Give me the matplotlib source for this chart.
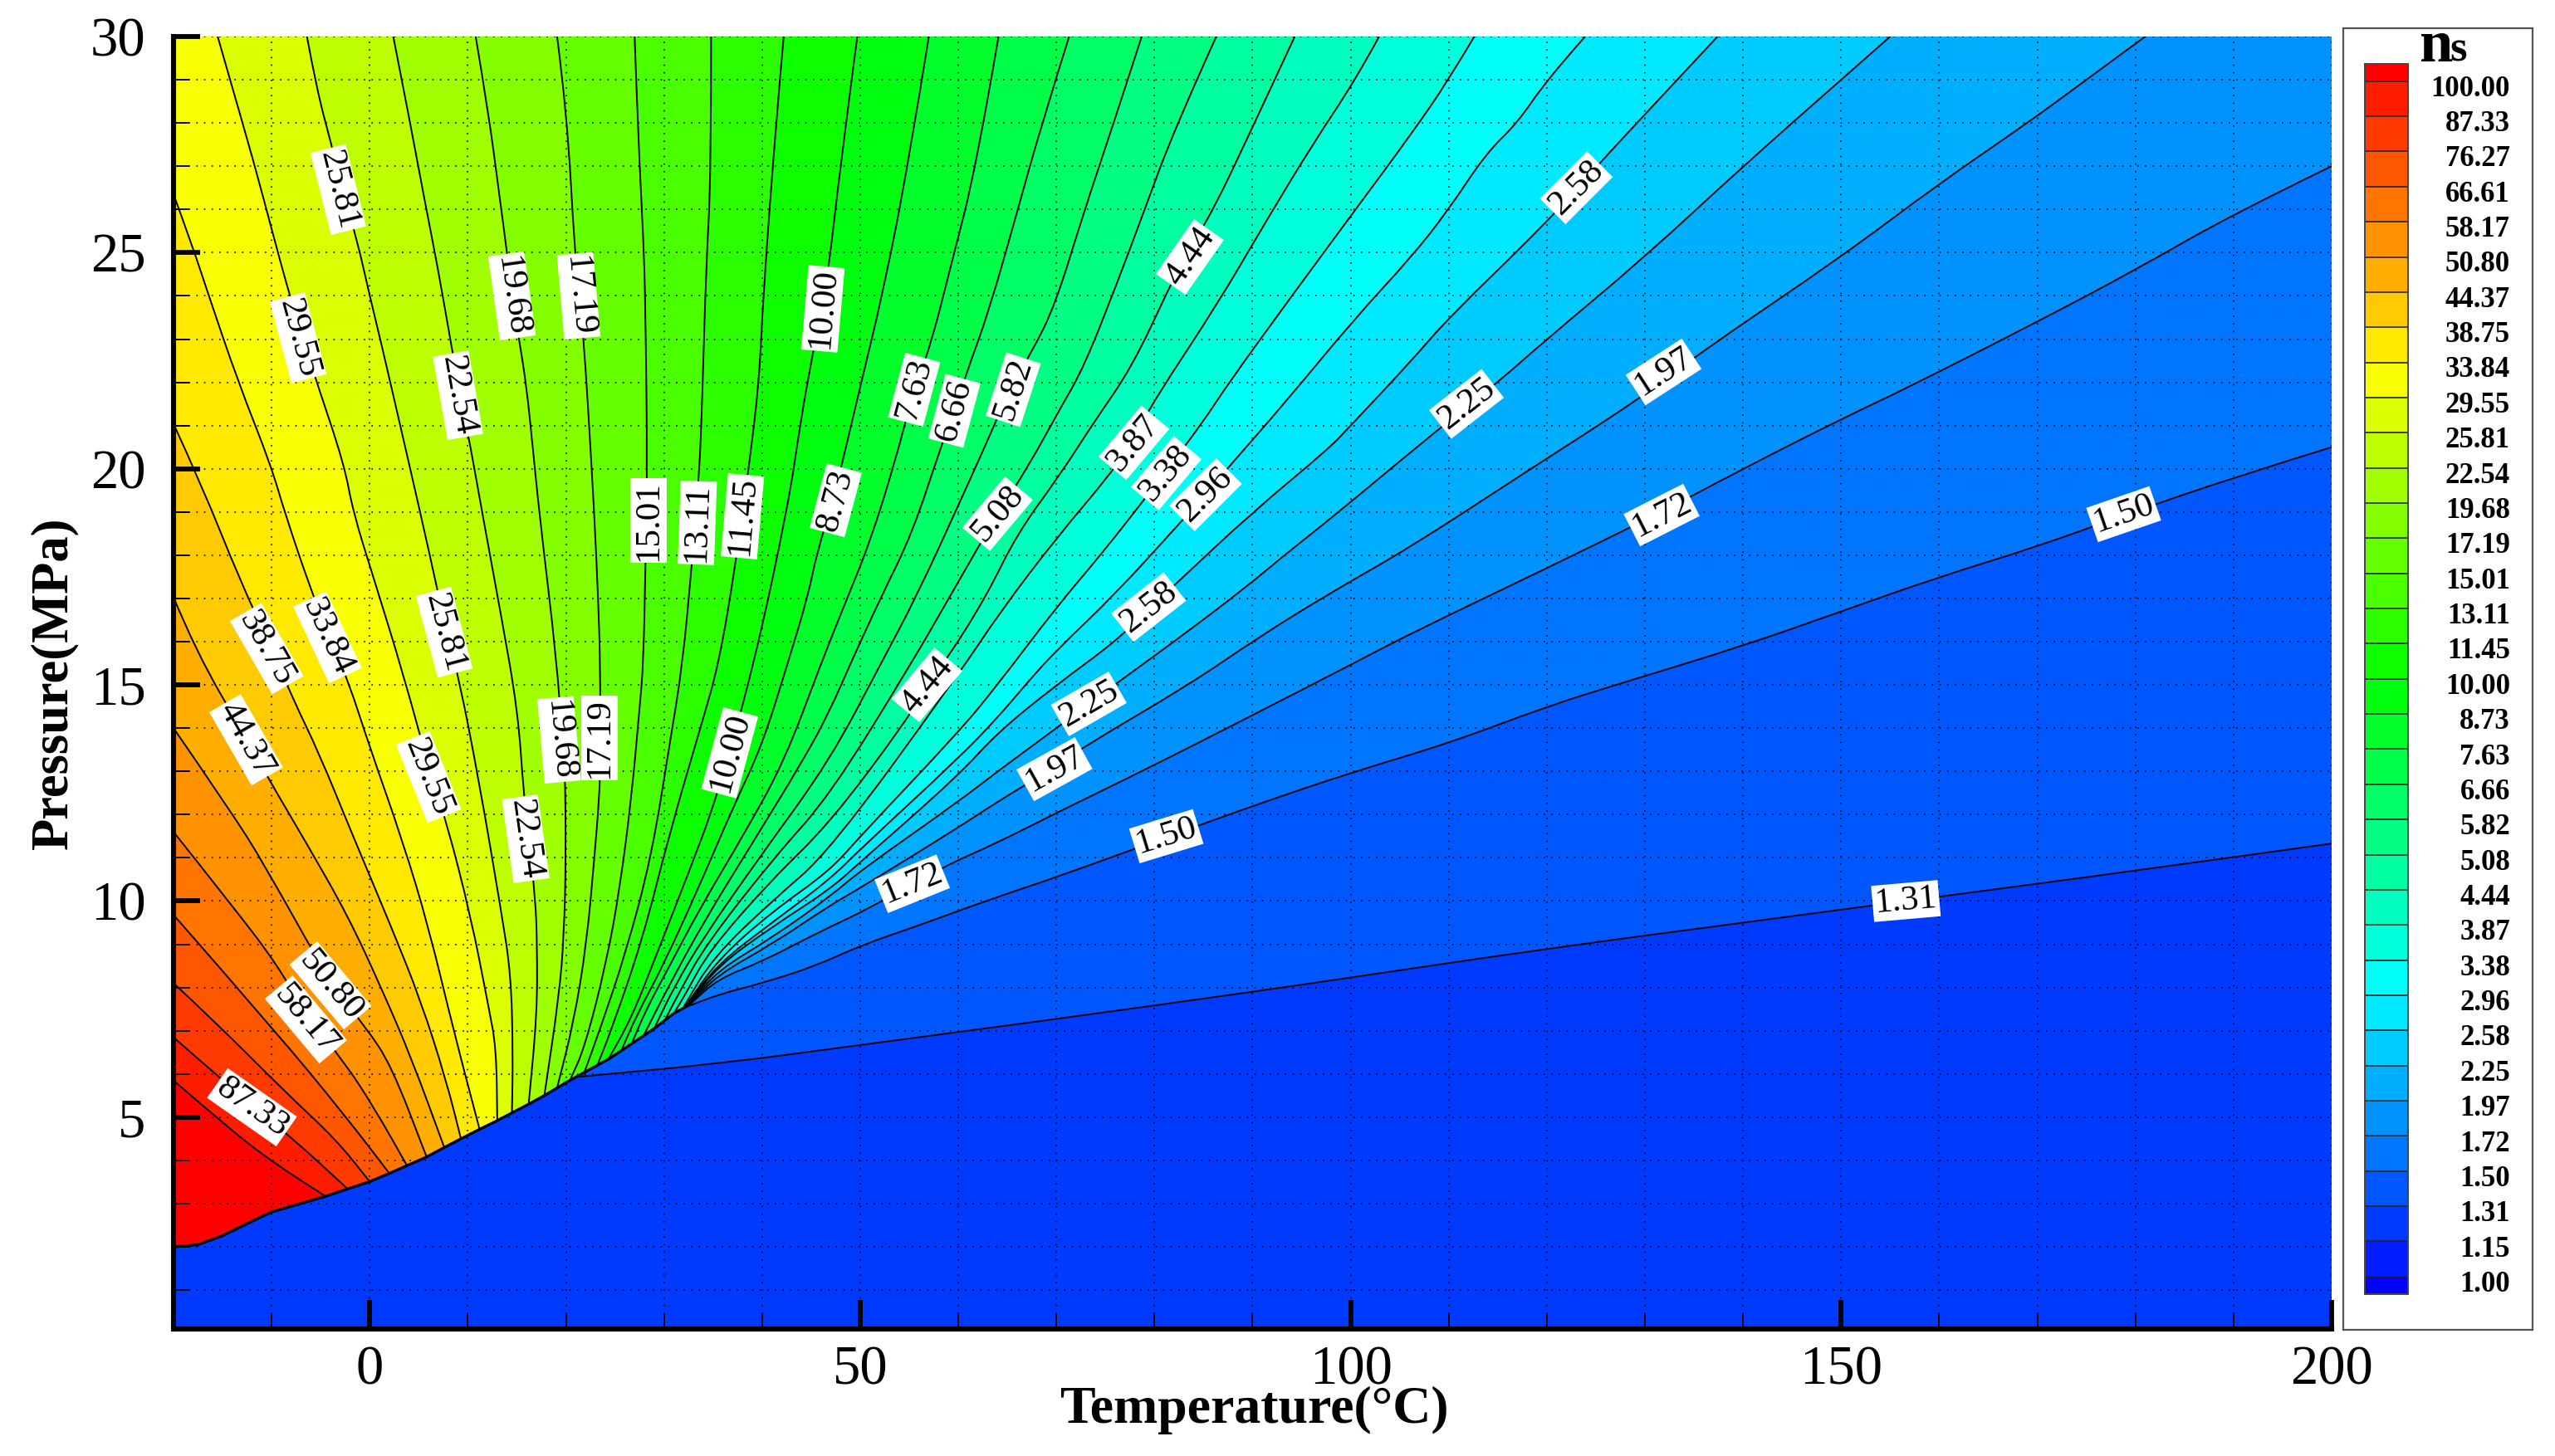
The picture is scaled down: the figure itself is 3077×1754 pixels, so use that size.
"""CO2 ns contour map over temperature and pressure, with the phase boundary."""
from __future__ import annotations

import matplotlib
matplotlib.use("Agg")
import matplotlib.pyplot as plt
from matplotlib.colors import LinearSegmentedColormap
from matplotlib.patches import PathPatch, Rectangle
from matplotlib.path import Path
from matplotlib.ticker import MultipleLocator

W, H = 3077, 1754

LEVEL_LABELS = ["100.00", "87.33", "76.27", "66.61", "58.17", "50.80", "44.37", "38.75", "33.84", "29.55",
                "25.81", "22.54", "19.68", "17.19", "15.01", "13.11", "11.45", "10.00", "8.73", "7.63",
                "6.66", "5.82", "5.08", "4.44", "3.87", "3.38", "2.96", "2.58", "2.25", "1.97",
                "1.72", "1.50", "1.31", "1.15", "1.00"]

# phase boundary, (T, P), cold end first
BOUNDARY = [(-20, 2.0), (-17.5, 2.05), (-15.1, 2.25), (-10.1, 2.8), (-4.5, 3.17), (0, 3.51), (2, 3.7), (3.8, 3.88),
            (5.8, 4.08), (7.6, 4.3), (9.3, 4.5), (11.2, 4.72), (13, 4.92), (14.5, 5.1), (16.2, 5.3),
            (17.8, 5.5), (20, 5.8), (22, 6.05), (24.4, 6.35), (26.7, 6.7), (29, 7.05), (31, 7.4), (32.6, 7.6)]

# contour lines, (T, P), outer end first, boundary end last
NS_1_31 = [(200, 11.33), (180, 10.7), (156.6, 10.0), (140, 9.5), (120, 8.9), (100, 8.23), (90, 7.9), (70, 7.27),
           (50, 6.67), (35.8, 6.24), (21, 5.93)]
NS_1_50 = [(200, 20.5), (190, 19.8), (178.5, 18.9), (170, 18.2), (160, 17.5), (150, 16.7), (140, 15.9), (127, 15.0),
           (120, 14.5), (110, 13.65), (100, 12.97), (90, 12.2), (81.5, 11.5), (70, 10.55), (64, 10.1), (55.9, 9.43),
           (50, 8.97), (45.5, 8.5), (40, 8.1), (35.7, 7.85), (32.6, 7.58)]
NS_1_72 = [(200, 27.0), (190, 25.9), (180, 24.6), (170, 23.4), (157, 21.9), (150, 21.15), (140, 20), (131.7, 19),
           (120, 17.7), (106.2, 16.2), (100.3, 15.5), (90, 14.3), (79.6, 13.1), (70, 12.04), (64, 11.35),
           (58.5, 10.8), (51.3, 9.87), (45.5, 9.25), (40, 8.6), (35.5, 8.2), (32.6, 7.6)]
NS_1_97 = [(181, 30), (175, 29), (169, 28), (160, 26.6), (150, 24.9), (135.7, 22.7), (130, 21.7), (117, 19.8),
           (106.2, 18.2), (97.7, 17.1), (90.6, 16.1), (83.5, 15), (73, 13.6), (69.5, 13.05), (64, 12.3), (60, 11.7),
           (50, 10.3), (46.9, 9.9), (41, 9.0), (35.5, 8.3), (32.55, 7.6)]
NS_2_25 = [(155, 30), (150, 29), (140, 27), (130, 24.9), (120, 23), (115, 22), (111.6, 21.4), (106.2, 20.4),
           (97.7, 18.8), (93.5, 18.05), (89, 17.2), (82, 16.0), (76.8, 15.15), (70, 14), (64, 13), (60, 12.3),
           (50, 10.7), (46.9, 10.1), (41, 9.15), (35.5, 8.4), (32.5, 7.6)]
NS_2_58 = [(137.4, 30), (130, 28.2), (125.9, 27.2), (120, 25.7), (110, 23.5), (106.2, 22.5), (100, 21.0), (97.7, 20.45),
           (90, 19), (82, 17.3), (79.4, 16.75), (76, 16), (70, 15), (64, 13.9), (60, 12.9), (50, 10.9), (46.9, 10.27),
           (41, 9.4), (35.5, 8.5), (32.4, 7.59)]
NS_2_96 = [(123.9, 30), (120, 29), (117, 28), (113.8, 27.3), (110, 26), (106.2, 24.9), (100.5, 23.5), (93.2, 21.5),
           (87.4, 20), (85, 19.35), (82.6, 18.75), (76, 17.1), (70, 15.8), (67.2, 15.1), (64, 14.24), (60, 13.3),
           (50, 11.2), (46.9, 10.5), (41, 9.5), (35.5, 8.55), (32.3, 7.58)]
NS_3_38 = [(112.6, 30), (110, 29), (106.2, 27.75), (100.5, 26), (94, 24), (87.6, 22), (84.7, 21), (81.3, 20), (79, 19.3),
           (74.5, 18), (70, 16.8), (64, 15), (60, 13.9), (50, 11.5), (46.9, 10.7), (41, 9.75), (35.5, 8.65),
           (32.2, 7.57)]
NS_3_87 = [(102.9, 30), (100.5, 29), (96.1, 27.5), (91.3, 25.7), (86.4, 23.8), (80, 21.6), (77.9, 20.7), (75.6, 19.9),
           (70, 18.4), (64.3, 16.7), (60.2, 15.3), (46.9, 11.15), (41, 10.0), (35, 8.7), (32, 7.55)]
NS_4_44 = [(94.3, 30), (90, 27.9), (85.9, 25.94), (83.3, 25), (81.5, 24.19), (77.7, 22.35), (73.8, 21.07), (70.4, 19.87),
           (66, 18.5), (62.9, 17.07), (59, 15.65), (56.8, 15), (54.8, 14.2), (46.9, 11.8), (41, 10.5), (34.6, 8.85),
           (32.2, 7.85), (31, 7.4)]
NS_5_08 = [(86.3, 30), (82.1, 27.9), (78.9, 25.94), (76.2, 24.3), (72.8, 22.35), (70.4, 21.4), (67, 20), (64.1, 19),
           (59.2, 17.07), (55.2, 15.49), (46.9, 12.44), (41.2, 11.0), (34.3, 9), (31.7, 7.95), (30.1, 7.25)]
NS_5_82 = [(78.7, 30), (75.7, 27.9), (72.8, 25.94), (69.9, 23.8), (67.5, 22.7), (65.3, 21.9), (63.8, 21.07), (60.7, 19.5),
           (55.8, 17.07), (52.1, 15.49), (46.9, 13.25), (39.7, 11), (34, 9.15), (31, 8.0), (29, 7.05)]
NS_6_66 = [(71.3, 30), (68.4, 27.9), (66, 25.94), (63.1, 23.63), (60.9, 22.26), (59.7, 21.4), (58.3, 20.56), (55.3, 18.5),
           (52.2, 17.07), (49, 15.49), (46.9, 14.4), (44.3, 13.3), (38.9, 11.3), (34, 9.5), (30.4, 8), (27.9, 6.88)]
NS_7_63 = [(64.1, 30), (61.9, 27.05), (59.2, 24.66), (57.3, 22.95), (55.2, 21.6), (53.6, 20.2), (51, 18.3), (48.3, 16.8),
           (46, 15.49), (42.3, 13.25), (38.3, 11.6), (33.7, 9.85), (30.1, 8.3), (28.2, 7.5), (26.7, 6.7)]
NS_8_73 = [(57, 30), (54.9, 27.05), (52.4, 24.15), (50, 21.9), (47.3, 19.3), (45.6, 18.08), (44.7, 17.07), (42.6, 15.49),
           (40, 13.6), (37.1, 12.2), (33.7, 10.4), (29.9, 8.5), (27.3, 7.4), (25.6, 6.52)]
NS_10_00 = [(49.7, 30), (48, 27.05), (46.8, 24.66), (46.1, 23.7), (45.1, 22.6), (43.9, 21.07), (42.7, 19.2), (39.2, 15.49),
            (35.4, 12.4), (32.5, 10.65), (29.3, 8.8), (26.7, 7.3), (24.3, 6.33)]
NS_11_45 = [(42.2, 30), (41.5, 28.25), (40.1, 24), (39.7, 22), (38.6, 19.95), (37.3, 17.8), (35.6, 15.49), (33.7, 14),
            (30.6, 11.6), (27.8, 9.1), (24.6, 7), (23.2, 6.2)]
NS_13_11 = [(34.8, 30), (34.8, 26.8), (34.3, 24.73), (33.9, 21.64), (33.6, 19.88), (32.8, 17.7), (31.9, 15.49),
            (30.6, 13.66), (28.7, 11), (26.1, 8.8), (23.5, 7.05), (21.9, 6.05)]
NS_15_01 = [(27, 30), (27.4, 27.5), (27.9, 25.3), (28.1, 23.85), (28.3, 19.88), (28.1, 17.7), (27.9, 15.49), (27.5, 14.45),
            (26.7, 12.43), (25.5, 10.3), (24.1, 8.55), (21.9, 6.6), (20.4, 5.85)]
NS_17_19 = [(19.1, 30), (20.1, 28.25), (20.9, 25), (21.4, 23.96), (21.8, 22.97), (22.2, 21.64), (22.9, 18.94), (23.3, 16.9),
            (23.5, 15.49), (23.5, 13.2), (23.4, 12.4), (22.9, 11), (22.1, 9), (20.8, 7.2), (19.1, 5.68)]
NS_19_68 = [(10.8, 30), (12.1, 28.25), (13.2, 26.35), (14, 25), (14.5, 23.96), (15.3, 22.9), (16, 21.86), (16.6, 20.54),
            (17.3, 18.94), (19.1, 15.49), (19.6, 13.75), (19.9, 13.2), (20, 11), (19.8, 9.2), (19.3, 7.8), (17.8, 5.5)]
NS_22_54 = [(2.4, 30), (4.1, 28.03), (5.6, 26.2), (6.9, 24.7), (8.4, 22.75), (9.3, 21.6), (10.2, 20.6), (11.5, 18.94),
            (13.4, 16.6), (15.1, 14.4), (15.7, 12.46), (16.2, 11.5), (16.9, 10), (17.06, 9), (17.06, 7.4), (16.2, 5.3)]
NS_25_81 = [(-6.4, 30), (-5.4, 28.77), (-3.9, 27.5), (-2.8, 26.45), (-1.3, 25.3), (0, 24), (1.1, 22.97), (2.4, 21.7),
            (5.2, 18.94), (6.9, 17.2), (7.8, 16.25), (9.1, 15.15), (11.2, 12.7), (13.4, 9.77), (14.4, 8.3), (14.6, 6.47),
            (14.5, 5.1)]
NS_29_55 = [(-15.5, 30), (-14.4, 29.13), (-11.8, 27.08), (-9.9, 25.46), (-8.4, 24.2), (-6.9, 23.07), (-5.4, 22), (-2.6, 20.1),
            (-1.7, 19), (0.4, 17.47), (3.4, 15.27), (6.25, 12.9), (7.8, 11.85), (10.3, 9.65), (12.1, 7.57), (12.9, 6.6), (13, 4.92)]
NS_33_84 = [(-20, 26.35), (-18.1, 25.17), (-16.4, 24), (-13.4, 22), (-10.1, 20.1), (-8.6, 18.94), (-6, 17.2), (-4.1, 16.1),
            (-2.2, 15.1), (0, 13.56), (3.4, 11.36), (6, 9.4), (8.6, 6.96), (11.2, 4.72)]
NS_38_75 = [(-20, 21.04), (-17.2, 19.66), (-13.1, 17.35), (-10.1, 15.9), (-7.8, 14.66), (-5.2, 13.44), (-1.7, 11.5), (2.2, 9.4),
            (5.2, 7.7), (7.8, 5.85), (9.3, 4.5)]
NS_44_37 = [(-20, 17.03), (-17.7, 15.76), (-12.5, 13.74), (-10.3, 12.82), (-6.5, 11.36), (-2.2, 9.65), (1.3, 7.93), (4.3, 6.34),
            (7.6, 4.3)]
NS_50_80 = [(-20, 14.0), (-14.2, 12.09), (-10.8, 10.87), (-3.9, 8.06), (-0.4, 7.08), (2.2, 6.2), (5.8, 4.08)]
NS_58_17 = [(-20, 11.6), (-13.8, 9.83), (-9.5, 8.55), (-6.3, 7.3), (-2.6, 6.28), (0.5, 5.2), (3.8, 3.88)]
NS_66_61 = [(-20, 9.68), (-9.5, 6.96), (-2.6, 5.06), (2, 3.7)]
NS_76_27 = [(-20, 8.1), (-16, 7.26), (-8.2, 5.49), (-3.5, 4.5), (0, 3.51)]
NS_87_33 = [(-20, 6.85), (-15.7, 5.98), (-7.8, 4.5), (-2.3, 3.35)]
NS_100_00 = [(-20, 5.85), (-13.8, 4.63), (-9.5, 3.9), (-4.5, 3.17)]

# low to high, painted in this order
CONTOURS = [("1.31", NS_1_31), ("1.50", NS_1_50), ("1.72", NS_1_72), ("1.97", NS_1_97), ("2.25", NS_2_25),
            ("2.58", NS_2_58), ("2.96", NS_2_96), ("3.38", NS_3_38), ("3.87", NS_3_87), ("4.44", NS_4_44),
            ("5.08", NS_5_08), ("5.82", NS_5_82), ("6.66", NS_6_66), ("7.63", NS_7_63), ("8.73", NS_8_73),
            ("10.00", NS_10_00), ("11.45", NS_11_45), ("13.11", NS_13_11), ("15.01", NS_15_01), ("17.19", NS_17_19),
            ("19.68", NS_19_68), ("22.54", NS_22_54), ("25.81", NS_25_81), ("29.55", NS_29_55), ("33.84", NS_33_84),
            ("38.75", NS_38_75), ("44.37", NS_44_37), ("50.80", NS_50_80), ("58.17", NS_58_17), ("66.61", NS_66_61),
            ("76.27", NS_76_27), ("87.33", NS_87_33), ("100.00", NS_100_00)]

# text, T, P, rotation
LINE_LABELS = [("25.81", -3.2, 26.46, -76), ("29.55", -7.3, 23.03, -75), ("19.68", 14.5, 24.0, -82), ("17.19", 21.3, 24.0, -85),
               ("22.54", 9, 21.7, -80), ("15.01", 28.4, 18.8, 90), ("13.11", 33.4, 18.75, 88), ("11.45", 38, 18.9, 85),
               ("10.00", 46.2, 23.7, 85), ("7.63", 55.5, 21.83, 75), ("6.66", 59.6, 21.34, 75), ("5.82", 65.6, 21.83, 72),
               ("8.73", 47.5, 19.27, 75), ("5.08", 64, 18.96, 50), ("4.44", 83.6, 24.9, 55), ("3.87", 77.9, 20.6, 50),
               ("3.38", 81.2, 19.9, 50), ("2.96", 85.2, 19.4, 45), ("2.58", 79.4, 16.8, 38), ("4.44", 56.8, 15, 50),
               ("2.25", 73.3, 14.56, 30), ("1.97", 69.8, 13.05, 29), ("1.50", 81.2, 11.5, 17), ("1.72", 55.3, 10.4, 22),
               ("1.31", 156.6, 10.0, 5), ("1.50", 178.8, 18.95, 19), ("1.72", 131.7, 18.93, 27), ("1.97", 131.9, 22.24, 33),
               ("2.25", 111.8, 21.5, 38), ("2.58", 123, 26.5, 45), ("38.75", -10.5, 15.84, -60), ("33.84", -4.3, 16.1, -65),
               ("44.37", -12.6, 13.73, -60), ("25.81", 7.6, 16.22, -75), ("29.55", 6, 12.87, -68), ("19.68", 19.3, 13.73, -85),
               ("17.19", 23.4, 13.77, 90), ("22.54", 15.9, 11.44, -82), ("10.00", 36.7, 13.43, 75), ("50.80", -4, 8.05, -50),
               ("58.17", -6.5, 7.26, -50), ("87.33", -12, 5.23, -35)]

X_TICKS = [0, 50, 100, 150, 200]
Y_TICKS = [5, 10, 15, 20, 25, 30]

plt.rcParams["font.family"] = ["Liberation Serif", "DejaVu Serif"]
rainbow = LinearSegmentedColormap.from_list("rainbow5", ["#ff0000", "#ffff00", "#00ff00", "#00ffff", "#0000ff"], N=1024)


def band_color(index: int):
    return rainbow(index / 35)


def fx(px: float) -> float:
    return px / W


def fy(px: float) -> float:
    return 1 - px / H


def curve_parts(line: list) -> tuple[list, list]:
    # quadratic segments through the midpoints, so the read points do not show as corners
    verts = [line[0]]
    codes = [Path.MOVETO]
    for a, b in zip(line[1:-1], line[2:]):
        verts += [a, ((a[0] + b[0]) / 2, (a[1] + b[1]) / 2)]
        codes += [Path.CURVE3, Path.CURVE3]
    verts.append(line[-1])
    codes.append(Path.LINETO)
    return verts, codes


def region_above(line: list) -> Path:
    # walk back along the boundary to the left edge, then round the corners
    end_t = line[0][0]
    start_t = line[-1][0]
    verts, codes = curve_parts(line)
    rest = [p for p in reversed(BOUNDARY) if p[0] < start_t]
    if end_t > -20:
        rest.append((-20, 30))
    if end_t >= 200:
        rest.append((200, 30))
    verts = verts + rest + [line[0]]
    codes = codes + [Path.LINETO] * len(rest) + [Path.CLOSEPOLY]
    return Path(verts, codes)


def draw_field(ax) -> None:
    ax.add_patch(Rectangle((-20, 0), 220, 30.1, fc=band_color(33), ec="none", zorder=1))
    for name, line in CONTOURS:
        ax.add_patch(PathPatch(region_above(line), fc=band_color(LEVEL_LABELS.index(name)), ec="none", lw=0, zorder=2))
    for name, line in CONTOURS:
        ax.add_patch(PathPatch(Path(*curve_parts(line)), fc="none", ec="black", lw=1.4, zorder=3))
    ax.plot([p[0] for p in BOUNDARY], [p[1] for p in BOUNDARY], color="black", lw=2.4, zorder=4)
    for text, t, p, rot in LINE_LABELS:
        ax.text(t, p, text, fontsize=31, rotation=rot, rotation_mode="anchor", ha="center", va="center", zorder=6,
                bbox=dict(fc="white", ec="none", pad=2.0))


def draw_colorbar(fig) -> None:
    fig.add_artist(Rectangle((fx(2822), fy(1602)), fx(3050) - fx(2822), fy(34) - fy(1602), transform=fig.transFigure,
                             fc="white", ec="#555555", lw=1.6, zorder=-1))
    cax = fig.add_axes([fx(2848), fy(1559), fx(2900) - fx(2848), fy(77) - fy(1559)])
    for k in range(36):
        cax.bar(0, 1, bottom=k - 1, width=1, color=band_color(k))
    cax.hlines(range(35), -0.5, 0.5, color="#222222", lw=1.2)
    cax.set_xlim(-0.5, 0.5)
    cax.set_ylim(34.5, -0.49)
    cax.set_xticks([])
    cax.set_yticks([])
    for spine in cax.spines.values():
        spine.set_color("#444444")
        spine.set_linewidth(1.4)
    for k, label in enumerate(LEVEL_LABELS):
        fig.text(fx(3023), fy(107 + k * 42.37), label, fontsize=25, fontweight="bold", ha="right", va="center")
    fig.text(fx(2914), fy(74), "n", fontsize=52, fontweight="bold", ha="left", va="baseline")
    fig.text(fx(2950), fy(74), "s", fontsize=38, fontweight="bold", ha="left", va="baseline")


def main() -> None:
    fig = plt.figure(figsize=(W / 100, H / 100), dpi=100)
    ax = fig.add_axes([fx(209), fy(1601), fx(2808) - fx(209), fy(44) - fy(1601)])
    draw_field(ax)

    ax.set_xlim(-20, 200)
    ax.set_ylim(0.1, 30)
    ax.set_xticks(X_TICKS)
    ax.set_yticks(Y_TICKS)
    ax.xaxis.set_minor_locator(MultipleLocator(10))
    ax.yaxis.set_minor_locator(MultipleLocator(1))
    ax.grid(True, which="both", color="black", lw=1.2, ls=(0, (1, 4.5)), zorder=5)
    ax.set_axisbelow(False)
    ax.tick_params(axis="x", which="major", direction="in", length=25, width=4.2, labelsize=48, pad=14)
    ax.tick_params(axis="y", which="major", direction="in", length=23, width=4.2, labelsize=48, pad=24)
    ax.tick_params(which="minor", direction="in", length=14, width=1.4)
    for name in ["top", "right"]:
        ax.spines[name].set_visible(False)
    for name in ["left", "bottom"]:
        ax.spines[name].set_linewidth(4.4)

    fig.text(fx(65), fy(823), "Pressure(MPa)", fontsize=45, fontweight="bold", rotation=90, ha="center", va="center")
    fig.text(fx(1510), fy(1699), "Temperature(\u00b0C)", fontsize=46, fontweight="bold", ha="center", va="center")

    draw_colorbar(fig)
    fig.savefig("out.png", dpi=100)
    plt.close(fig)


if __name__ == "__main__":
    main()
